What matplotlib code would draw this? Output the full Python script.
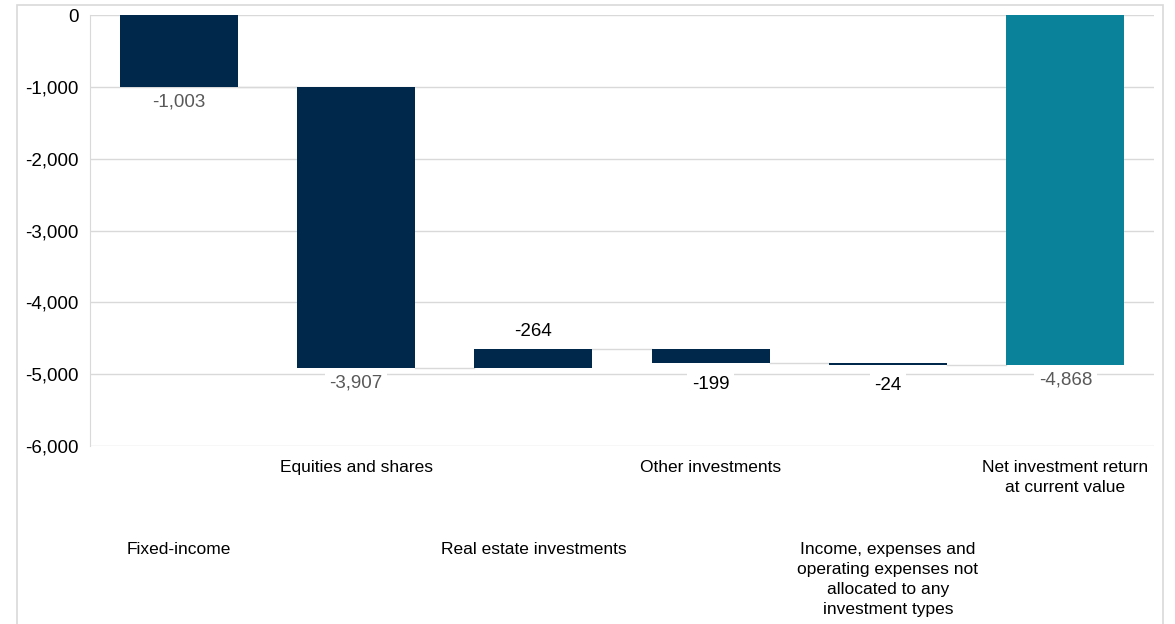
import matplotlib.pyplot as plt
from matplotlib.patches import Rectangle
from matplotlib.transforms import blended_transform_factory

plt.rcParams['font.family'] = ['Liberation Sans', 'DejaVu Sans']

# Data
categories = ["Fixed-income", "Equities and shares", "Real estate investments",
              "Other investments",
              "Income, expenses and\noperating expenses not\nallocated to any\ninvestment types",
              "Net investment return\nat current value"]
changes = [-1003, -3907, 264, -199, -24]
total = -4868
label_values = [-1003, -3907, -264, -199, -24, -4868]

navy = "#00284b"
teal = "#0a8299"
grid_col = "#d9d9d9"
label_cols = ["#595959", "#595959", "#000000", "#000000", "#000000", "#595959"]

# waterfall bottoms/tops
starts, ends = [], []
level = 0
for c in changes:
    starts.append(level)
    level += c
    ends.append(level)
starts.append(0)
ends.append(total)

fig = plt.figure(figsize=(11.75, 6.24), dpi=100)
ax = fig.add_axes([90 / 1175, 1 - 446 / 624, (1154 - 90) / 1175, 431 / 624])

x = list(range(len(categories)))
width = 0.665
for i in x:
    lo, hi = min(starts[i], ends[i]), max(starts[i], ends[i])
    col = teal if i == len(x) - 1 else navy
    ax.bar(i, hi - lo, width, bottom=lo, color=col, zorder=3)

# connector lines
for i in range(len(x) - 1):
    ax.plot([i + width / 2, i + 1 - width / 2], [ends[i], ends[i]],
            color=grid_col, lw=1, zorder=2)

# value labels
for i in x:
    up = ends[i] > starts[i]
    small = abs(ends[i] - starts[i]) < 250 and not up
    off = 6 if up else (-9 if small else -5)
    ax.annotate(f"{label_values[i]:,}", (i, ends[i]),
                xytext=(0, off), textcoords="offset points",
                ha="center", va="bottom" if up else "top",
                fontsize=13.5, color=label_cols[i], zorder=4,
                bbox=dict(boxstyle="square,pad=0.25", fc="white", ec="none"))

ax.set_xlim(-0.5, len(x) - 0.5)
ax.set_ylim(-6000, 0)
ax.set_yticks(range(-6000, 1, 1000))
ax.set_yticklabels([f"{v:,}" for v in range(-6000, 1, 1000)], fontsize=13.5)
ax.yaxis.grid(True, color=grid_col, lw=1, zorder=0)
ax.tick_params(axis="y", length=0, pad=8)
ax.set_xticks([])
for s in ["top", "right", "bottom"]:
    ax.spines[s].set_visible(False)
ax.spines["left"].set_color(grid_col)

# staggered category labels
tr = blended_transform_factory(ax.transData, ax.transAxes)
for i, name in enumerate(categories):
    yy = -0.032 if i % 2 == 1 else -0.222
    ax.text(i, yy, name, transform=tr, ha="center", va="top",
            multialignment="center", fontsize=12.5, linespacing=1.42)

# outer frame
fig.patches.append(Rectangle((17 / 1175, -0.01), (1163 - 17) / 1175, 1 - 5 / 624 + 0.01,
                             transform=fig.transFigure, fill=False,
                             ec=grid_col, lw=1.2))

fig.savefig("out.png", dpi=100)
